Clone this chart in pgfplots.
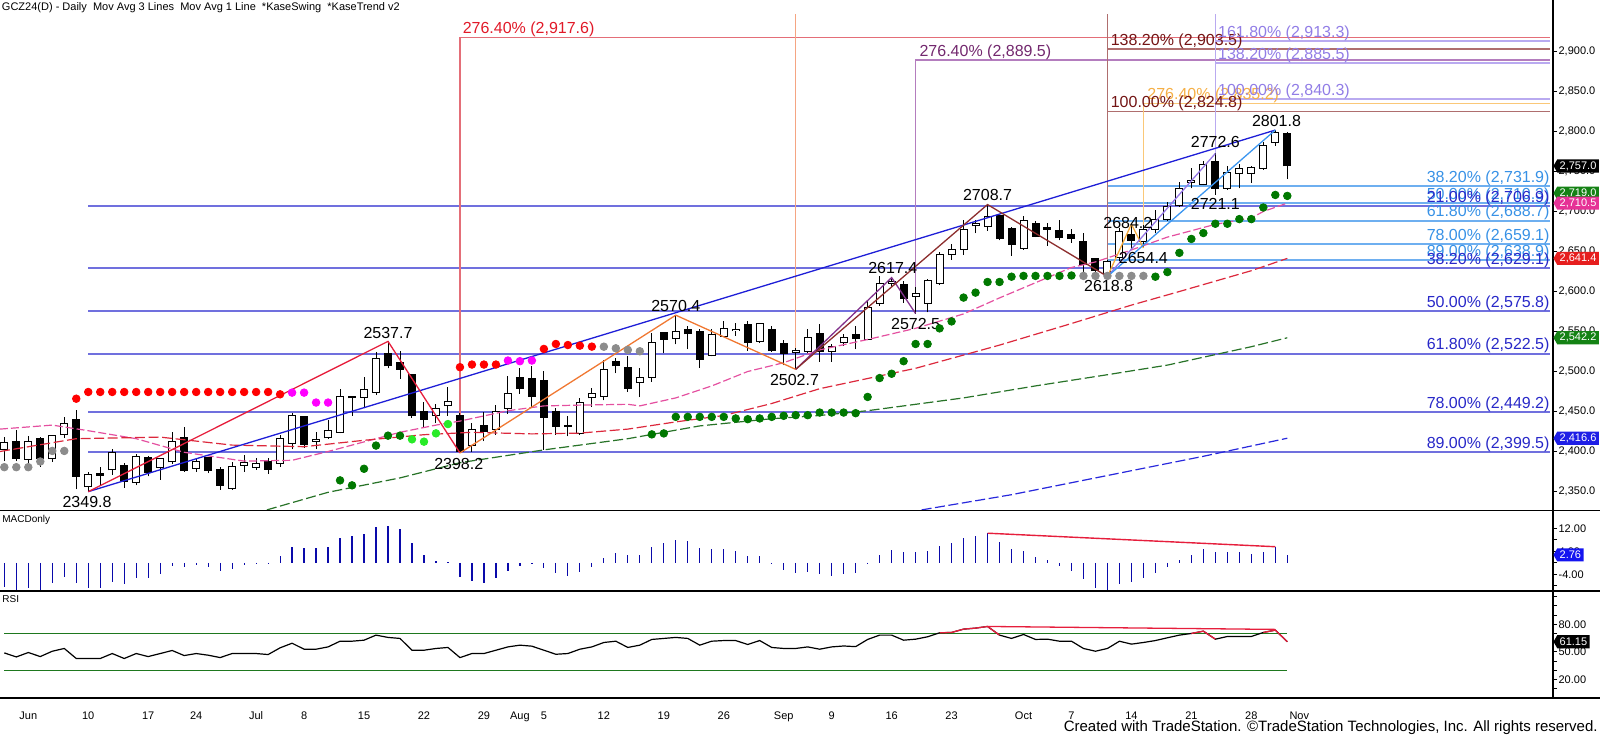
\documentclass[border=0pt]{standalone}
\usepackage{pgfplots}
\pgfplotsset{compat=1.18}
\usepackage{pgfplotstable}
\usepackage{fontspec}
\setmainfont{Liberation Sans}
\usetikzlibrary{shapes.symbols}

\definecolor{dbl}{RGB}{112,112,222}
\definecolor{dblt}{RGB}{40,40,200}
\definecolor{lbl}{RGB}{110,175,240}
\definecolor{lblt}{RGB}{55,145,230}
\definecolor{redl}{RGB}{228,110,120}
\definecolor{redt}{RGB}{225,25,40}
\definecolor{purl}{RGB}{180,125,190}
\definecolor{purt}{RGB}{115,40,110}
\definecolor{marl}{RGB}{175,110,110}
\definecolor{mart}{RGB}{115,20,20}
\definecolor{orl}{RGB}{250,200,120}
\definecolor{ort}{RGB}{245,175,70}
\definecolor{lavl}{RGB}{185,170,240}
\definecolor{lavt}{RGB}{145,125,230}
\definecolor{salm}{RGB}{245,165,130}
\definecolor{mapink}{RGB}{228,80,160}
\definecolor{mared}{RGB}{220,40,60}
\definecolor{magreen}{RGB}{40,115,40}
\definecolor{mablue}{RGB}{40,40,220}
\definecolor{dotred}{RGB}{255,0,0}
\definecolor{dotmag}{RGB}{255,0,255}
\definecolor{dotgray}{RGB}{140,140,140}
\definecolor{dotdg}{RGB}{0,120,0}
\definecolor{dotlg}{RGB}{40,235,40}
\definecolor{swred}{RGB}{230,30,60}
\definecolor{swor}{RGB}{240,120,50}
\definecolor{swpur}{RGB}{130,50,140}
\definecolor{swbrn}{RGB}{140,45,45}
\definecolor{swyel}{RGB}{245,170,60}
\definecolor{swlav}{RGB}{150,120,230}
\definecolor{swlb}{RGB}{60,150,240}
\definecolor{swdb}{RGB}{30,30,215}
\definecolor{macdb}{RGB}{10,10,170}
\definecolor{rsig}{RGB}{30,120,30}
\definecolor{boxgreen}{RGB}{20,130,20}
\definecolor{boxpink}{RGB}{230,50,150}
\definecolor{boxred}{RGB}{230,30,30}
\definecolor{boxblue}{RGB}{30,30,230}
\definecolor{boxmacd}{RGB}{20,20,240}

% up candles: i O H L C
\pgfplotstableread{
i O H L C
-2 2403 2418 2388 2411
0 2390 2420 2384 2413
2 2391 2421 2387 2420
3 2421 2443 2417 2435
5 2356 2375 2349.8 2371
7 2377 2403 2371 2399
9 2361 2397 2358 2394
11 2380 2392 2365 2391
12 2387 2425 2385 2413
14 2379 2392 2375 2388
17 2354 2387 2352 2381
18 2383 2396 2375 2386
19 2380 2392 2377 2385
21 2385 2421 2381 2416
22 2410 2448 2403 2445
24 2413 2425 2403 2415
25 2417 2440 2416 2426
26 2424 2478 2423 2469
28 2468 2493 2454 2477
29 2474 2524 2471 2516
34 2445 2460 2436 2454
35 2457 2481 2445 2463
37 2408 2436 2400 2427
39 2428 2458 2421 2450
40 2454 2495 2447 2472
46 2422 2467 2421 2461
47 2467 2479 2456 2473
48 2469 2514 2464 2503
51 2486 2505 2468 2492
52 2493 2548 2487 2536
54 2541 2570.4 2534 2550
57 2520 2553 2519 2546
58 2544 2563 2543 2554
59 2551 2561 2545 2553
61 2538 2561 2536 2560
64 2524 2530 2502.7 2526
65 2525 2553 2523 2543
67 2525 2534 2512 2531
68 2536 2547 2532 2543
70 2540 2588 2539 2580
71 2585 2619 2582 2610
72 2610 2617.4 2606 2612
74 2594 2606 2572.5 2597
75 2585 2616 2574 2614
76 2610 2650 2608 2646
77 2646 2659 2640 2652
78 2653 2690 2646 2677
79 2682 2689 2673 2685
80 2681 2708.7 2676 2694
83 2654 2695 2652 2689
90 2623 2639 2618.8 2638
91 2643 2679 2638 2675
93 2663 2683 2654.4 2677
94 2678 2702 2673 2690
95 2690 2712 2688 2706
96 2707 2737 2706 2729
97 2736 2755 2729 2739
98 2734 2763 2733 2759
100 2729 2757 2727 2749
101 2748 2759 2729 2754
102 2748 2757 2736 2755
103 2754 2787 2752 2782
104 2786 2801.8 2782 2799
}\upc

% down candles: i O H L C
\pgfplotstableread{
i O H L C
-1 2412 2427 2388 2391
1 2416 2418 2381 2391
4 2440 2452 2353 2369
6 2373 2381 2358 2370
8 2382 2386 2355 2363
10 2392 2394 2369 2374
13 2418 2431 2375 2376
15 2392 2392 2373 2376
16 2377 2381 2352 2358
20 2387 2392 2372 2378
23 2444 2445 2405 2409
27 2469 2470 2445 2467
30 2522 2537.7 2504 2507
31 2511 2526 2491 2503
32 2496 2497 2442 2445
33 2450 2462 2431 2440
36 2445 2448 2398.2 2400
38 2433 2449 2413 2425
41 2493 2505 2472 2479
42 2491 2507 2454 2469
43 2489 2501 2402 2443
44 2450 2454 2421 2431
45 2433 2445 2419 2431
49 2512 2517 2498 2507
50 2505 2519 2475 2479
53 2549 2549 2523 2540
55 2552 2557 2528 2547
56 2550 2553 2505 2515
60 2559 2563 2526 2536
62 2552 2557 2525 2526
63 2535 2539 2508 2523
66 2547 2559 2512 2525
69 2546 2557 2528 2541
73 2609 2613 2586 2591
81 2695 2696 2664 2666
82 2679 2681 2645 2659
84 2685 2688 2668 2669
85 2680 2686 2657 2678
86 2676 2690 2664 2667
87 2671 2678 2661 2666
88 2662 2673 2624 2634
89 2641 2642 2623 2626
92 2671 2684.2 2652 2664
99 2763 2772.6 2721.1 2729
105 2798 2800 2741 2757
}\dnc

\pgfplotstableread{
i v
-2 -8.3
-1 -9.8
0 -8.6
1 -9.5
2 -7.1
3 -4.8
4 -7.1
5 -8.6
6 -8.9
7 -6.8
8 -7.5
9 -5.4
10 -5.4
11 -3.8
12 -1.0
13 -1.4
14 -0.7
15 -1.6
16 -2.7
17 -2.1
18 -0.9
19 -0.4
20 -0.2
21 2.4
22 5.6
23 5.3
24 5.3
25 5.6
26 8.5
27 9.4
28 10.0
29 12.6
30 12.8
31 11.8
32 7.0
33 2.7
34 0.6
35 0.2
36 -4.8
37 -6.2
38 -6.9
39 -5.2
40 -2.9
41 -1.0
42 -0.3
43 -1.7
44 -3.4
45 -4.5
46 -3.1
47 -1.4
48 1.6
49 3.3
50 2.7
51 2.7
52 5.6
53 6.8
54 7.9
55 7.6
56 5.3
57 4.8
58 4.8
59 4.1
60 2.5
61 2.4
62 -0.1
63 -2.5
64 -3.6
65 -3.1
66 -4.0
67 -4.5
68 -3.8
69 -3.5
70 -0.5
71 2.7
72 4.4
73 3.6
74 3.6
75 4.1
76 5.8
77 6.8
78 8.7
79 9.3
80 10.3
81 7.3
82 4.7
83 4.1
84 2.1
85 1.0
86 -1.0
87 -2.9
88 -5.7
89 -8.6
90 -9.5
91 -7.4
92 -6.6
93 -5.2
94 -3.6
95 -1.4
96 1.0
97 2.7
98 4.8
99 3.9
100 3.6
101 3.6
102 3.2
103 3.9
104 5.6
105 2.76
}\macd

\pgfplotstableread{
i v
-2 49
-1 44.6
0 49.4
1 45
2 50.8
3 53.8
4 42.9
5 42.9
6 42.9
7 48.3
8 42.9
9 48.3
10 45
11 48.3
12 51.6
13 46.1
14 48.3
15 46.5
16 43.9
17 48.3
18 48.3
19 48.3
20 47.2
21 54.5
22 59.5
23 53
24 53
25 55.5
26 61.7
27 61.7
28 62.8
29 68.3
30 65.8
31 64.7
32 51.9
33 51.9
34 53.8
35 54.9
36 43.9
37 48.3
38 48.3
39 51.9
40 55.5
41 57.4
42 56.3
43 51.9
44 47.5
45 48.3
46 53
47 55.5
48 60.3
49 61.7
50 54.9
51 57.4
52 63.6
53 64.7
54 65.8
55 64.7
56 57.4
57 61.7
58 62.4
59 62.4
60 58.1
61 62.4
62 54.9
63 53.8
64 53.8
65 55.5
66 53
67 55.5
68 56.5
69 55.8
70 63.6
71 68.3
72 68.3
73 62.8
74 63.9
75 66.5
76 70.8
77 71.2
78 74.8
79 75.9
80 77.7
81 68.3
82 64.7
83 69
84 63.6
85 63.9
86 61.7
87 61.7
88 53.8
89 50.8
90 53.8
91 61.7
92 58.5
93 60.3
94 62.4
95 65.4
96 68.3
97 70.1
98 72.6
99 63.9
100 66.8
101 66.8
102 66.8
103 71.2
104 73.7
105 61.15
}\rsi

\pgfplotsset{
  panel/.style={scale only axis, width=776.5pt, xmin=-2.36, xmax=127.16,
    anchor=north west, axis y line*=right,
    axis line style={-, black, line width=0.6pt},
    tick align=outside, major tick length=2pt,
    tick style={black, line width=0.5pt},
    yticklabel style={font=\fontsize{5.5}{6}\selectfont, inner sep=0.6pt},
    clip=false},
  nomark/.style={only marks, mark=*, mark size=0pt, mark options={draw=none, fill=none}},
  wick/.style={nomark, error bars/.cd, y dir=plus, y explicit,
    error mark=none, error bar style={black, line width=0.5pt}},
  bodyout/.style={nomark, error bars/.cd, y dir=plus, y explicit,
    error mark=none, error bar style={black, line width=4pt}},
  bodyin/.style={nomark, error bars/.cd, y dir=plus, y explicit,
    error mark=none, error bar style={white, line width=3pt}},
}

\tikzset{
  ann/.style={font=\fontsize{8}{9}\selectfont, inner sep=0pt, text=black},
  fl/.style={font=\fontsize{8}{9}\selectfont, inner sep=0pt},
  vbox/.style={shape=signal, signal to=west, signal pointer angle=120,
    text=white, font=\fontsize{5.5}{6}\selectfont, inner xsep=1.2pt,
    inner ysep=0.9pt, minimum height=6.6pt, anchor=west},
}

\begin{document}
\begin{tikzpicture}
\useasboundingbox (0pt,0pt) rectangle (800pt,-369.5pt);

%================ MAIN PRICE PANEL ================
\begin{axis}[panel, at={(0pt,0pt)}, height=255.15pt,
  ymin=2326.5, ymax=2964.4, axis x line=none,
  ytick={2350,2400,...,2900},
  yticklabels={{2,350.0},{2,400.0},{2,450.0},{2,500.0},{2,550.0},{2,600.0},{2,650.0},{2,700.0},{2,750.0},{2,800.0},{2,850.0},{2,900.0}},
]
% dark blue retracement lines
\addplot[dbl, line width=1pt] coordinates {(5,2706.9) (126.9,2706.9)};
\addplot[dbl, line width=1pt] coordinates {(5,2629.1) (126.9,2629.1)};
\addplot[dbl, line width=1pt] coordinates {(5,2575.8) (126.9,2575.8)};
\addplot[dbl, line width=1pt] coordinates {(5,2522.5) (126.9,2522.5)};
\addplot[dbl, line width=1pt] coordinates {(5,2449.2) (126.9,2449.2)};
\addplot[dbl, line width=1pt] coordinates {(5,2399.5) (126.9,2399.5)};
% light blue retracement lines
\addplot[lbl, line width=1pt] coordinates {(90,2731.9) (126.9,2731.9)};
\addplot[lbl, line width=1pt] coordinates {(90,2710.3) (126.9,2710.3)};
\addplot[lbl, line width=1pt] coordinates {(90,2688.7) (126.9,2688.7)};
\addplot[lbl, line width=1pt] coordinates {(90,2659.1) (126.9,2659.1)};
\addplot[lbl, line width=1pt] coordinates {(90,2638.9) (126.9,2638.9)};
% extension lines
\addplot[redl, line width=0.8pt] coordinates {(36,2398.2) (36,2917.6) (126.9,2917.6)};
\addplot[salm, line width=0.8pt] coordinates {(64,2502.7) (64,2946.9)};
\addplot[purl, line width=0.8pt] coordinates {(74,2572.5) (74,2889.5) (126.9,2889.5)};
\addplot[marl, line width=0.8pt] coordinates {(90,2618.8) (90,2946.9)};
\addplot[marl, line width=0.8pt] coordinates {(90,2903.5) (126.9,2903.5)};
\addplot[marl, line width=0.8pt] coordinates {(90,2824.8) (126.9,2824.8)};
\addplot[orl, line width=0.8pt] coordinates {(93,2654.4) (93,2835.2) (126.9,2835.2)};
\addplot[lavl, line width=0.8pt] coordinates {(99,2721.1) (99,2946.9)};
\addplot[lavl, line width=0.8pt] coordinates {(99,2913.3) (126.9,2913.3)};
\addplot[lavl, line width=0.8pt] coordinates {(99,2885.5) (126.9,2885.5)};
\addplot[lavl, line width=0.8pt] coordinates {(99,2840.3) (126.9,2840.3)};

% candles: wicks
\addplot[wick] table[x=i, y=L, y error plus expr=\thisrow{H}-\thisrow{L}] {\upc};
\addplot[wick] table[x=i, y=L, y error plus expr=\thisrow{H}-\thisrow{L}] {\dnc};
% candles: bodies
\addplot[bodyout] table[x=i, y expr=\thisrow{O}-0.6, y error plus expr=\thisrow{C}-\thisrow{O}+1.2] {\upc};
\addplot[bodyin] table[x=i, y expr=\thisrow{O}+0.65, y error plus expr={max(\thisrow{C}-\thisrow{O}-1.3,0)}] {\upc};
\addplot[bodyout] table[x=i, y expr=\thisrow{C}-0.6, y error plus expr=\thisrow{O}-\thisrow{C}+1.2] {\dnc};

% moving averages
\addplot[mapink, line width=0.6pt, dash pattern=on 4pt off 1.5pt] coordinates {
(-2.36,2428) (2,2433) (5,2426) (9,2416) (13,2399) (18,2388) (22,2389) (25,2400)
(28,2412) (31,2424) (34,2433) (36,2438) (40,2451) (43,2457) (46,2458) (50,2459)
(51,2457) (54,2467) (57,2482) (60,2500) (63,2511) (66,2527) (70,2540) (74,2554)
(78,2572) (81,2592) (84,2611) (87,2630) (89,2637) (92,2652) (95,2668) (99,2684)
(102,2692) (103,2700) (105,2710.5)};
\addplot[mared, line width=0.6pt, dash pattern=on 5pt off 1.8pt] coordinates {
(-2.36,2400) (4,2416) (11,2418) (17,2408) (23,2406) (28,2414) (33,2421) (37,2424)
(42,2422) (46,2423) (50,2428) (54,2437) (58,2445) (62,2460) (66,2478.5) (74,2504)
(81,2533) (87,2560) (92,2583) (96,2600) (102,2626) (105,2641.4)};
\addplot[magreen, line width=0.6pt, dash pattern=on 5pt off 1.8pt] coordinates {
(19.9,2327) (25,2349) (31,2367) (36,2386) (43,2402) (50,2416) (56,2432) (62,2441)
(66,2445) (70,2451) (78,2467) (84,2482) (90,2496) (95,2508) (102,2531) (105,2542.2)};
\addplot[mablue, line width=0.6pt, dash pattern=on 5pt off 1.8pt] coordinates {
(74.5,2327) (82,2346) (90,2370) (98,2394) (105,2416.6)};

% KaseTrend dots
\addplot[only marks, mark=*, mark size=1.9pt, color=dotgray] coordinates {
(-2,2380.4) (-1,2380.4) (0,2380.4) (1,2387.5) (2,2400.7) (3,2400.7)
(48,2531) (49,2529) (50,2527) (51,2525.3)
(88,2619.5) (89,2619.5) (90,2619.5) (91,2619.5) (92,2619.5) (93,2619.5)};
\addplot[only marks, mark=*, mark size=1.9pt, color=dotred] coordinates {
(4,2466) (5,2474.4) (6,2474.4) (7,2474.4) (8,2474.4) (9,2474.4) (10,2474.4)
(11,2474.4) (12,2474.4) (13,2474.4) (14,2474.4) (15,2474.4) (16,2474.4)
(17,2474.4) (18,2474.4) (19,2474.4) (20,2474.4) (21,2471.5)
(36,2505.4) (37,2508.7) (38,2508.7) (39,2508.7)
(43,2528.2) (44,2534.4) (45,2533.1) (46,2532.3) (47,2531.1)};
\addplot[only marks, mark=*, mark size=1.9pt, color=dotmag] coordinates {
(22,2473.6) (23,2473.6) (24,2461.2) (25,2461.2) (40,2513.7) (41,2512.9) (42,2513.7)};
\addplot[only marks, mark=*, mark size=1.9pt, color=dotdg] coordinates {
(26,2363.9) (27,2357.7) (28,2378.4) (29,2407.4) (30,2419.8) (31,2419.8)
(52,2421.4) (53,2422.6) (54,2443.3) (55,2443.3) (56,2443.3) (57,2443.3) (58,2443.3)
(59,2441.3) (60,2440.4) (61,2441.3) (62,2443.3) (63,2444.6) (64,2445.4) (65,2445.4)
(66,2448.7) (67,2448.7) (68,2448.7) (69,2447.9) (70,2468.2) (71,2491.8) (72,2497.2)
(73,2512.9) (74,2534.4) (75,2534.4) (76,2553.9) (77,2562.6) (78,2592.4) (79,2598.6)
(80,2611.9) (81,2611.9) (82,2618.5) (83,2619.5) (84,2619.5) (85,2619.5) (86,2619.5)
(87,2620) (94,2618.5) (95,2624.3) (96,2648.3) (97,2665.7) (98,2673.1) (99,2684.7)
(100,2684.7) (101,2690.5) (102,2690.5) (103,2705) (104,2720.7) (105,2719.5)};
\addplot[only marks, mark=*, mark size=1.9pt, color=dotlg] coordinates {
(32,2415.2) (33,2412.3) (34,2422.7) (35,2434.3)};

% swing lines
\addplot[swdb, line width=0.65pt] coordinates {(5,2349.8) (104,2801.8)};
\addplot[swred, line width=0.65pt] coordinates {(5,2349.8) (30,2537.7) (36,2398.2)};
\addplot[swor, line width=0.65pt] coordinates {(36,2398.2) (54,2570.4) (64,2502.7)};
\addplot[swpur, line width=0.65pt] coordinates {(64,2502.7) (72,2617.4) (74,2572.5)};
\addplot[swbrn, line width=0.65pt] coordinates {(64,2502.7) (80,2708.7) (90,2618.8)};
\addplot[swyel, line width=0.65pt] coordinates {(90,2618.8) (92,2684.2) (93,2654.4)};
\addplot[swlav, line width=0.65pt] coordinates {(90,2618.8) (99,2772.6)};
\addplot[swlb, line width=0.65pt] coordinates {(90,2618.8) (104,2801.8)};

% swing annotations
\node[ann] at (axis cs:4.9,2336.5) {2349.8};
\node[ann] at (axis cs:30,2547.8) {2537.7};
\node[ann] at (axis cs:35.9,2384) {2398.2};
\node[ann] at (axis cs:54,2581.9) {2570.4};
\node[ann] at (axis cs:63.9,2489.4) {2502.7};
\node[ann] at (axis cs:72.1,2629) {2617.4};
\node[ann] at (axis cs:74,2559.4) {2572.5};
\node[ann] at (axis cs:80,2720.6) {2708.7};
\node[ann] at (axis cs:91.7,2686) {2684.2};
\node[ann] at (axis cs:90.1,2606.9) {2618.8};
\node[ann] at (axis cs:93,2641.5) {2654.4};
\node[ann] at (axis cs:99,2709.4) {2721.1};
\node[ann] at (axis cs:99,2787.3) {2772.6};
\node[ann] at (axis cs:104.1,2813.5) {2801.8};

% fib labels (right)
\node[fl, text=lblt, anchor=south east] at (axis cs:126.9,2731.9) {38.20\% (2,731.9)};
\node[fl, text=lblt, anchor=south east] at (axis cs:126.9,2710.3) {50.00\% (2,710.3)};
\node[fl, text=dblt, anchor=south east] at (axis cs:126.9,2706.9) {21.00\% (2,706.9)};
\node[fl, text=lblt, anchor=south east] at (axis cs:126.9,2688.7) {61.80\% (2,688.7)};
\node[fl, text=lblt, anchor=south east] at (axis cs:126.9,2659.1) {78.00\% (2,659.1)};
\node[fl, text=lblt, anchor=south east] at (axis cs:126.9,2638.9) {89.00\% (2,638.9)};
\node[fl, text=dblt, anchor=south east] at (axis cs:126.9,2629.1) {38.20\% (2,629.1)};
\node[fl, text=dblt, anchor=south east] at (axis cs:126.9,2575.8) {50.00\% (2,575.8)};
\node[fl, text=dblt, anchor=south east] at (axis cs:126.9,2522.5) {61.80\% (2,522.5)};
\node[fl, text=dblt, anchor=south east] at (axis cs:126.9,2449.2) {78.00\% (2,449.2)};
\node[fl, text=dblt, anchor=south east] at (axis cs:126.9,2399.5) {89.00\% (2,399.5)};
% fib labels (left aligned)
\node[fl, text=redt, anchor=south west] at (axis cs:36.2,2917.6) {276.40\% (2,917.6)};
\node[fl, text=purt, anchor=south west] at (axis cs:74.3,2889.5) {276.40\% (2,889.5)};
\node[fl, text=ort, anchor=south west] at (axis cs:93.3,2835.2) {276.40\% (2,835.2)};
\node[fl, text=mart, anchor=south west] at (axis cs:90.25,2903.5) {138.20\% (2,903.5)};
\node[fl, text=mart, anchor=south west] at (axis cs:90.25,2824.8) {100.00\% (2,824.8)};
\node[fl, text=lavt, anchor=south west] at (axis cs:99.2,2913.3) {161.80\% (2,913.3)};
\node[fl, text=lavt, anchor=south west] at (axis cs:99.2,2885.5) {138.20\% (2,885.5)};
\node[fl, text=lavt, anchor=south west] at (axis cs:99.2,2840.3) {100.00\% (2,840.3)};

\coordinate (b1) at (axis cs:127.16,2757);
\coordinate (b2) at (axis cs:127.16,2723);
\coordinate (b3) at (axis cs:127.16,2710.5);
\coordinate (b4) at (axis cs:127.16,2641.4);
\coordinate (b5) at (axis cs:127.16,2542.2);
\coordinate (b6) at (axis cs:127.16,2416.6);
\end{axis}

%================ MACD PANEL ================
\begin{axis}[panel, at={(0pt,-255.15pt)}, height=40.35pt,
  ymin=-9.8, ymax=18.26, axis x line=none,
  ytick={-8,-4,0,4,8,12}, yticklabels={,{-4.00},,{4.00},,{12.00}}]
\addplot[ycomb, macdb, line width=0.6pt] table[x=i, y=v] {\macd};
\addplot[swred, line width=0.7pt] coordinates {(80,10.3) (104,5.6)};
\coordinate (b7) at (axis cs:127.16,2.76);
\end{axis}

%================ RSI PANEL ================
\begin{axis}[panel, at={(0pt,-295.5pt)}, height=53.5pt,
  ymin=0, ymax=116.2, axis x line*=bottom,
  xtick={0,5,10,14,19,23,28,33,38,41,43,48,53,58,63,67,72,77,83,87,92,97,102,106},
  xticklabels={Jun,10,17,24,Jul,8,15,22,29,Aug,5,12,19,26,Sep,9,16,23,Oct,7,14,21,28,Nov},
  xtick style={draw=none},
  xticklabel style={font=\fontsize{5.5}{6}\selectfont, anchor=north, text height=4pt, text depth=1pt, yshift=-1pt},
  ytick={10,20,...,110}, yticklabels={,20.00,,,50.00,,,80.00,,,}]
\addplot[rsig, line width=0.6pt] coordinates {(-2,70) (105,70)};
\addplot[rsig, line width=0.6pt] coordinates {(-2,30) (105,30)};
\addplot[black, line width=0.6pt] table[x=i, y=v] {\rsi};
\addplot[swred, line width=0.65pt] coordinates {(76,70.8) (77,71.2) (78,74.8) (79,75.9) (80,77.7) (81,68.3)};
\addplot[swred, line width=0.65pt] coordinates {(97,70.1) (98,72.6) (99,63.9)};
\addplot[swred, line width=0.65pt] coordinates {(103,71.2) (104,73.7) (105,61.15)};
\addplot[swred, line width=0.65pt] coordinates {(80,77.7) (104,74.5)};
\coordinate (b8) at (axis cs:127.16,61.15);
\end{axis}

% panel separators and right axis
\draw[black, line width=0.7pt] (0pt,-255.15pt) -- (800pt,-255.15pt);
\draw[black, line width=0.7pt] (0pt,-295.5pt) -- (800pt,-295.5pt);
\draw[black, line width=0.7pt] (0pt,-349pt) -- (800pt,-349pt);
\draw[black, line width=0.6pt] (776.5pt,0pt) -- (776.5pt,-349pt);

% value boxes
\node[vbox, fill=black] at (b1) {2,757.0};
\node[vbox, fill=boxgreen] at (b2) {2,719.0};
\node[vbox, fill=boxpink] at (b3) {2,710.5};
\node[vbox, fill=boxred] at (b4) {2,641.4};
\node[vbox, fill=boxgreen] at (b5) {2,542.2};
\node[vbox, fill=boxblue] at (b6) {2,416.6};
\node[vbox, fill=boxmacd] at (b7) {2.76};
\node[vbox, fill=black] at (b8) {61.15};

% titles
\node[anchor=west, inner sep=0pt, font=\fontsize{5.5}{6.5}\selectfont] at (0.8pt,-3.6pt)
  {GCZ24(D) - Daily\ \ Mov Avg 3 Lines\ \ Mov Avg 1 Line\ \ *KaseSwing\ \ *KaseTrend v2};
\node[anchor=north west, inner sep=0pt, font=\fontsize{5}{6}\selectfont] at (1pt,-257.3pt) {MACDonly};
\node[anchor=north west, inner sep=0pt, font=\fontsize{5}{6}\selectfont] at (1pt,-297.6pt) {RSI};
\node[anchor=east, inner sep=0pt, font=\fontsize{7.5}{8.5}\selectfont] at (799pt,-364pt)
  {Created with TradeStation. ©TradeStation Technologies, Inc. All rights reserved.};
\end{tikzpicture}
\end{document}
